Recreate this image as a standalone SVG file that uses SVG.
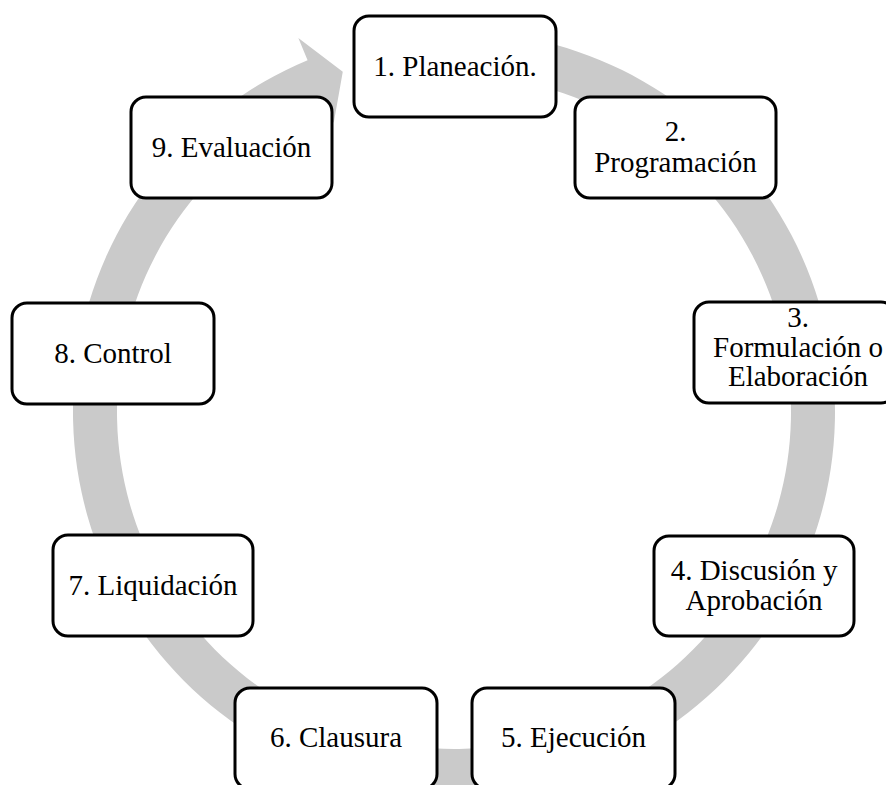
<svg xmlns="http://www.w3.org/2000/svg" width="886" height="785" viewBox="0 0 886 785">
<style>
.box{fill:#fff;stroke:#000;stroke-width:3}
.t{font-size:29px;fill:#000;text-anchor:middle}
.ring{fill:#cacaca;stroke:none}
</style>
<rect width="886" height="785" fill="#fff"/>
<g id="connectors">
<path class="ring" d="M 387.84 36.79 A 381 381 0 1 1 307.58 60.26 L 298.36 38.10 L 342.78 71.71 L 333.71 123.04 L 324.49 100.88 A 337 337 0 1 0 395.48 80.12 Z"/>
</g>
<g font-family="Liberation Serif, DejaVu Serif, serif">
<g id="node1"><rect class="box" x="354" y="16" width="202" height="101" rx="15"/><text class="t" x="455" y="76">1. Planeación.</text></g>
<g id="node2"><rect class="box" x="575" y="97" width="201" height="101" rx="15"/><text class="t" x="675.5" y="141">2.</text><text class="t" x="675.5" y="172">Programación</text></g>
<g id="node3"><rect class="box" x="694" y="302" width="202" height="101" rx="15"/><text class="t" x="798" y="327">3.</text><text class="t" x="798" y="356.5">Formulación o</text><text class="t" x="798" y="386">Elaboración</text></g>
<g id="node4"><rect class="box" x="654" y="536" width="200" height="100" rx="15"/><text class="t" x="754" y="580">4. Discusión y</text><text class="t" x="754" y="610">Aprobación</text></g>
<g id="node5"><rect class="box" x="472" y="688" width="203" height="101" rx="15"/><text class="t" x="573.5" y="747">5. Ejecución</text></g>
<g id="node6"><rect class="box" x="235" y="688" width="202" height="101" rx="15"/><text class="t" x="336" y="747">6. Clausura</text></g>
<g id="node7"><rect class="box" x="53" y="535" width="200" height="101" rx="15"/><text class="t" x="153" y="594.5">7. Liquidación</text></g>
<g id="node8"><rect class="box" x="12" y="303" width="202" height="101" rx="15"/><text class="t" x="113" y="362.5">8. Control</text></g>
<g id="node9"><rect class="box" x="131" y="97" width="201" height="101" rx="15"/><text class="t" x="231.5" y="156.5">9. Evaluación</text></g>
</g>
</svg>
